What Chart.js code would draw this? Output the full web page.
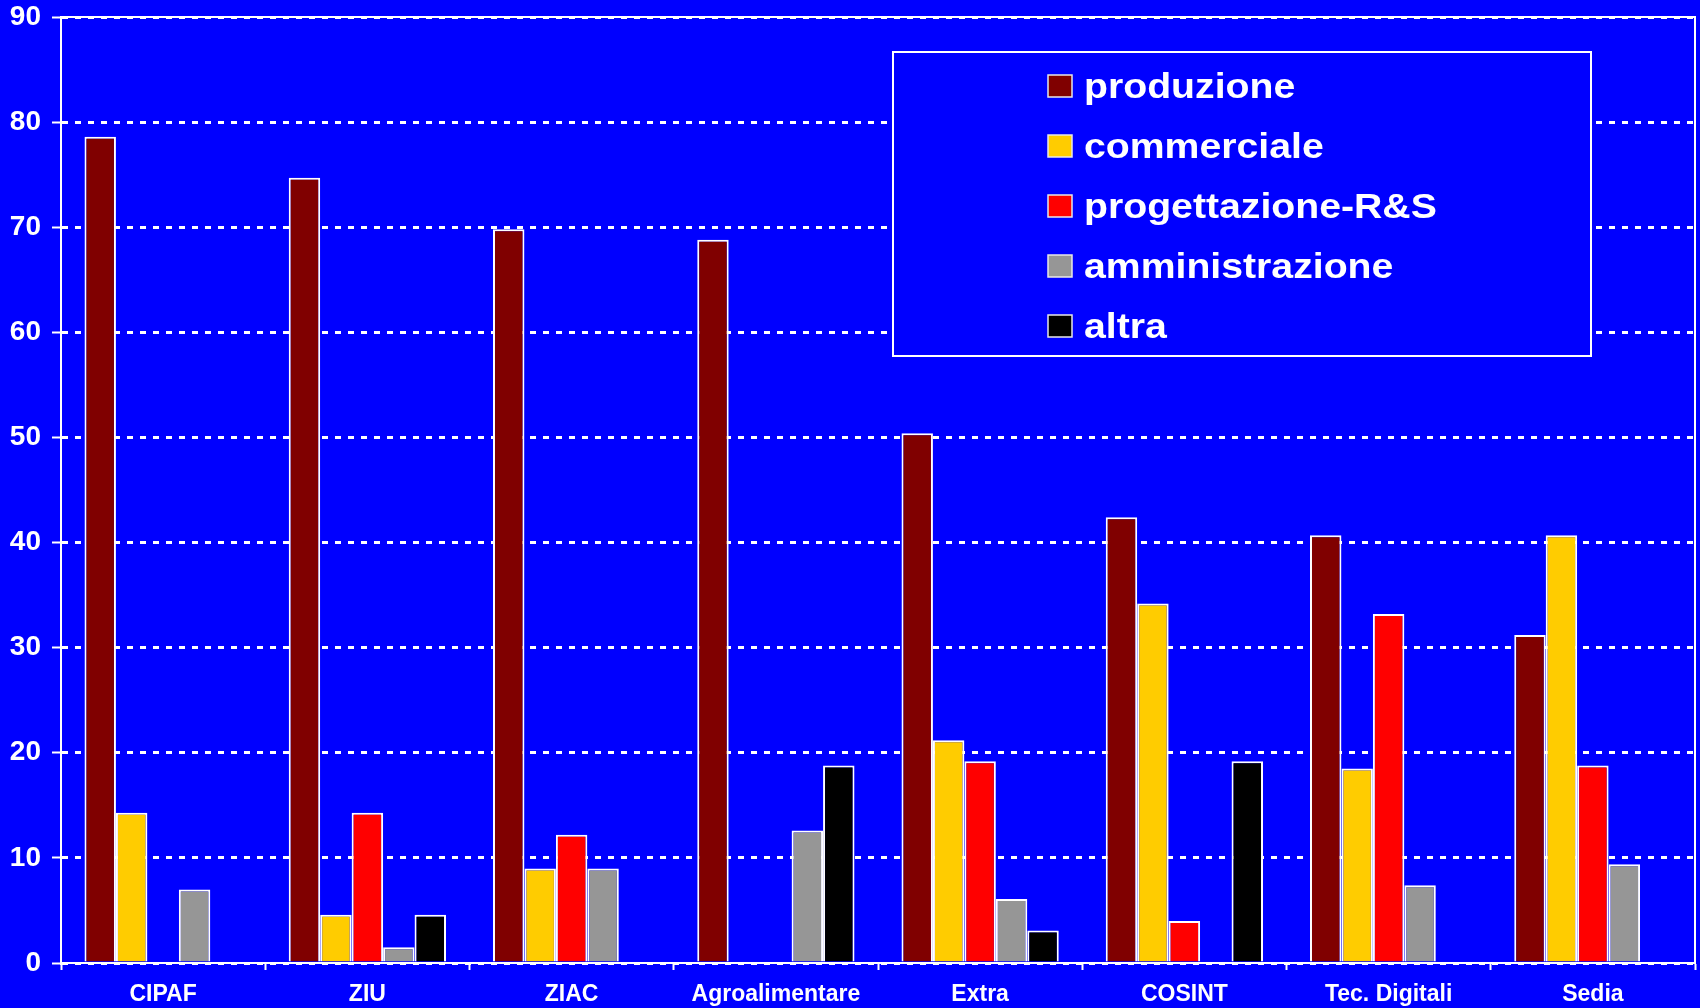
<!DOCTYPE html>
<html>
<head>
<meta charset="utf-8">
<script src="https://cdn.jsdelivr.net/npm/chart.js@4.4.1/dist/chart.umd.min.js"></script>
<style>
  html, body { margin: 0; padding: 0; background: #0000ff; }
  #wrap { width: 1700px; height: 1008px; }
</style>
</head>
<body>
<div id="wrap"><canvas id="chart"></canvas></div>
<script>
// data (%)
const categories = ["CIPAF", "ZIU", "ZIAC", "Agroalimentare", "Extra", "COSINT", "Tec. Digitali", "Sedia"];
const produzione = [78.6, 74.7, 69.8, 68.8, 50.4, 42.4, 40.7, 31.2];
const commerciale = [14.3, 4.6, 9.0, null, 21.2, 34.2, 18.5, 40.7];
const progettazione = [null, 14.3, 12.2, null, 19.2, 4.0, 33.2, 18.8];
const amministrazione = [7.0, 1.5, 9.0, 12.6, 6.1, null, 7.4, 9.4];
const altra = [null, 4.6, null, 18.8, 3.1, 19.2, null, null];
const yTicks = [0, 10, 20, 30, 40, 50, 60, 70, 80, 90];

const FONT = 'Arial, "Liberation Sans", sans-serif';

function bar(label, data, color) {
    return {
        label: label,
        data: data,
        backgroundColor: color,
        borderColor: '#ffffff',
        borderWidth: 2,
        categoryPercentage: 0.77,
        barPercentage: 1.0
    };
}

// top + right edge of the plot frame
const plotFrame = {
    id: 'plotFrame',
    afterDatasetsDraw(chart) {
        const ctx = chart.ctx, a = chart.chartArea;
        ctx.save();
        ctx.strokeStyle = '#ffffff';
        ctx.lineWidth = 2;
        ctx.beginPath();
        ctx.moveTo(a.left, a.top);
        ctx.lineTo(a.right, a.top);
        ctx.lineTo(a.right, a.bottom);
        ctx.stroke();
        ctx.restore();
    }
};

// boxed legend inside the plot, like the original
const boxLegend = {
    id: 'boxLegend',
    afterDraw(chart, args, opts) {
        const ctx = chart.ctx;
        ctx.save();
        ctx.fillStyle = '#0000ff';
        ctx.fillRect(opts.x, opts.y, opts.w, opts.h);
        ctx.strokeStyle = '#ffffff';
        ctx.lineWidth = 2;
        ctx.strokeRect(opts.x, opts.y, opts.w, opts.h);
        chart.data.datasets.forEach((ds, i) => {
            const y = opts.firstRow + i * opts.rowGap;
            ctx.fillStyle = ds.backgroundColor;
            ctx.fillRect(opts.swatchX, y - 11, 24, 22);
            ctx.strokeStyle = '#e8e8e8';
            ctx.lineWidth = 1.5;
            ctx.strokeRect(opts.swatchX, y - 11, 24, 22);
            ctx.save();
            ctx.translate(opts.textX, y + 2);
            ctx.scale(1.12, 1);
            ctx.fillStyle = '#ffffff';
            ctx.font = 'bold 35px ' + FONT;
            ctx.textBaseline = 'middle';
            ctx.fillText(ds.label, 0, 0);
            ctx.restore();
        });
        ctx.restore();
    }
};

let chart = new Chart(document.getElementById('chart'), {
    type: 'bar',
    data: {
        labels: categories,
        datasets: [
            bar('produzione', produzione, '#800000'),
            bar('commerciale', commerciale, '#ffcc00'),
            bar('progettazione-R&S', progettazione, '#ff0000'),
            bar('amministrazione', amministrazione, '#969696'),
            bar('altra', altra, '#000000')
        ]
    },
    options: {
        responsive: true,
        maintainAspectRatio: false,
        animation: false,
        layout: { padding: { top: 17, right: 5, left: 0, bottom: 0 } },
        plugins: {
            legend: { display: false },
            tooltip: { enabled: false },
            boxLegend: { x: 893, y: 52, w: 698, h: 304, swatchX: 1048, textX: 1084, firstRow: 86, rowGap: 60 }
        },
        scales: {
            x: {
                grid: { display: true, drawOnChartArea: false, drawTicks: true, tickLength: 7, tickWidth: 2, tickColor: '#ffffff', offset: true },
                border: { display: true, color: '#ffffff', width: 2 },
                ticks: { color: '#ffffff', font: { family: FONT, size: 23, weight: 'bold' }, padding: 11, maxRotation: 0, autoSkip: false },
                afterFit: s => { s.height = 45; }
            },
            y: {
                min: 0,
                max: 90,
                afterBuildTicks: s => { s.ticks = yTicks.map(v => ({ value: v })); },
                grid: { color: '#ffffff', lineWidth: 3, tickLength: 9, tickWidth: 2, tickColor: '#ffffff', tickBorderDash: [] },
                border: { display: true, color: '#ffffff', width: 2, dash: [6, 7] },
                ticks: { color: '#ffffff', font: { family: FONT, size: 28, weight: 'bold' }, padding: 11 },
                afterFit: s => { s.width = 61; s.paddingTop = 0; s.paddingBottom = 0; }
            }
        }
    },
    plugins: [plotFrame, boxLegend]
});
</script>
</body>
</html>
